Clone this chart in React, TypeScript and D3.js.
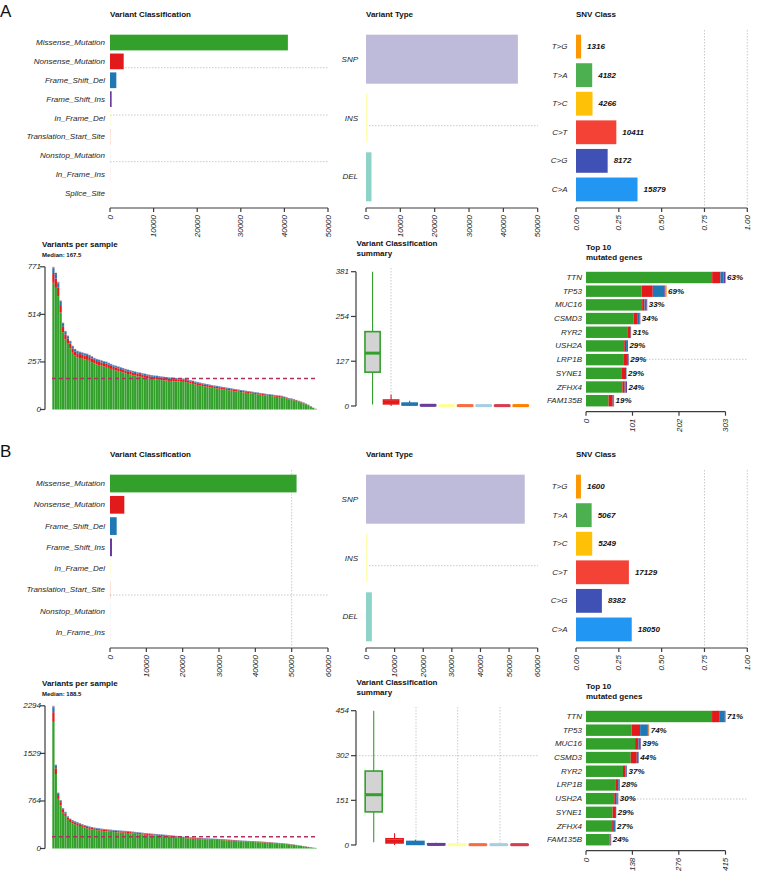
import React from 'react';
import * as d3 from 'd3';

// ---------------- categories ----------------
const vcClassesA = ['Missense_Mutation', 'Nonsense_Mutation', 'Frame_Shift_Del', 'Frame_Shift_Ins', 'In_Frame_Del', 'Translation_Start_Site', 'Nonstop_Mutation', 'In_Frame_Ins', 'Splice_Site'];
const vcClassesB = ['Missense_Mutation', 'Nonsense_Mutation', 'Frame_Shift_Del', 'Frame_Shift_Ins', 'In_Frame_Del', 'Translation_Start_Site', 'Nonstop_Mutation', 'In_Frame_Ins'];
const vtTypes = ['SNP', 'INS', 'DEL'];
const snvClasses = ['T>G', 'T>A', 'T>C', 'C>T', 'C>G', 'C>A'];

// ---------------- panel A values ----------------
const vcCountsA = [40800, 3140, 1450, 380, 70, 45, 30, 15, 10];
const vcTicksA = [0, 10000, 20000, 30000, 40000, 50000];
const vtCountsA = [44226, 450, 1600];
const vtTicksA = [0, 10000, 20000, 30000, 40000, 50000];
const snvCountsA = [1316, 4182, 4266, 10411, 8172, 15879];
const sampleTotalsA = [
  771, 740, 690, 590, 470, 425, 400, 372, 345, 328,
  318, 313, 309, 305, 302, 296, 288, 280, 274, 270,
  266, 262, 259, 253, 247, 241, 237, 233, 229, 225,
  220, 216, 213, 209, 206, 202, 200, 197, 194, 191,
  188, 186, 184, 183, 181, 179, 177, 176, 174, 173,
  172, 171, 170, 169, 168, 167, 163, 159, 156, 152,
  149, 146, 143, 140, 138, 135, 132, 130, 128, 126,
  123, 121, 119, 117, 115, 112, 110, 108, 106, 104,
  102, 100, 98, 96, 94, 92, 90, 88, 86, 84,
  83, 81, 79, 77, 76, 74, 70, 66, 62, 60,
  56, 52, 47, 43, 38, 32, 26, 18, 10, 4,
];
const sampleTicksA = [0, 257, 514, 771];
const boxMinA = [4, 0, 0, 0, 0, 0, 0, 0, 0];
const boxQ1A = [96, 6, 3, 1, 0, 0, 0, 0, 0];
const boxMedA = [150, 11, 5, 2, 1, 1, 1, 1, 1];
const boxQ3A = [211, 17, 8, 3, 2, 2, 2, 2, 2];
const boxMaxA = [381, 32, 15, 6, 3, 3, 3, 3, 3];
const boxTicksA = [0, 127, 254, 381];
const genesA = ['TTN', 'TP53', 'MUC16', 'CSMD3', 'RYR2', 'USH2A', 'LRP1B', 'SYNE1', 'ZFHX4', 'FAM135B'];
const geneMissenseA = [274, 121, 122, 103, 91, 83, 81, 78, 79, 49];
const geneNonsenseA = [18, 24, 5, 8, 6, 4, 8, 9, 5, 9];
const geneFsDelA = [7, 25, 4, 5, 1, 2, 3, 1, 2, 2];
const geneFsInsA = [4, 2, 2, 2, 0, 2, 1, 0, 3, 1];
const geneSpliceA = [0, 3, 0, 0, 0, 0, 0, 0, 0, 0];
const genePctA = ['63%', '69%', '33%', '34%', '31%', '29%', '29%', '29%', '24%', '19%'];
const geneTicksA = [0, 101, 202, 303];

// ---------------- panel B values ----------------
const vcCountsB = [51350, 3940, 1840, 550, 90, 55, 40, 15];
const vcTicksB = [0, 10000, 20000, 30000, 40000, 50000, 60000];
const vtCountsB = [55477, 560, 2050];
const vtTicksB = [0, 10000, 20000, 30000, 40000, 50000, 60000];
const snvCountsB = [1600, 5067, 5249, 17129, 8382, 18050];
const sampleTotalsB = [
  2294, 1350, 900, 780, 650, 590, 520, 480, 458, 440,
  425, 408, 392, 378, 366, 356, 346, 338, 332, 326,
  320, 315, 311, 307, 303, 299, 295, 292, 289, 286,
  284, 281, 277, 272, 268, 264, 259, 255, 250, 246,
  243, 239, 236, 233, 229, 226, 223, 220, 216, 212,
  208, 204, 200, 196, 190, 187, 185, 182, 179, 176,
  173, 170, 168, 166, 164, 162, 160, 158, 156, 154,
  152, 150, 147, 144, 141, 138, 135, 132, 129, 127,
  125, 123, 121, 119, 117, 115, 113, 111, 108, 105,
  102, 99, 96, 93, 90, 87, 83, 79, 75, 70,
  64, 58, 52, 46, 40, 33, 27, 21, 15, 10,
];
const sampleTicksB = [0, 764, 1529, 2294];
const boxMinB = [9, 0, 0, 0, 0, 0, 0, 0];
const boxQ1B = [112, 7, 2, 1, 0, 0, 0, 0];
const boxMedB = [170, 13, 6, 2, 1, 1, 1, 1];
const boxQ3B = [250, 21, 12, 4, 2, 2, 2, 2];
const boxMaxB = [454, 40, 18, 8, 3, 3, 3, 3];
const boxTicksB = [0, 151, 302, 454];
const genesB = ['TTN', 'TP53', 'MUC16', 'CSMD3', 'RYR2', 'LRP1B', 'USH2A', 'SYNE1', 'ZFHX4', 'FAM135B'];
const geneMissenseB = [375, 136, 146, 133, 110, 89, 84, 79, 75, 70];
const geneNonsenseB = [23, 25, 10, 18, 7, 7, 6, 10, 5, 3];
const geneFsDelB = [15, 23, 5, 5, 4, 4, 4, 1, 7, 1];
const geneFsInsB = [2, 2, 2, 1, 1, 1, 2, 0, 1, 1];
const geneSpliceB = [0, 2, 0, 0, 0, 0, 0, 0, 0, 0];
const genePctB = ['71%', '74%', '39%', '44%', '37%', '28%', '30%', '29%', '27%', '24%'];
const geneTicksB = [0, 138, 276, 415];

// ---------------- colours ----------------
const vcColors: Record<string, string> = {
  Missense_Mutation: '#33A02C',
  Nonsense_Mutation: '#E31A1C',
  Frame_Shift_Del: '#1F78B4',
  Frame_Shift_Ins: '#6A3D9A',
  In_Frame_Del: '#FFFF99',
  Translation_Start_Site: '#F46D43',
  Nonstop_Mutation: '#A6CEE3',
  In_Frame_Ins: '#D53E4F',
  Splice_Site: '#FF7F00',
};
const vtColors: Record<string, string> = { SNP: '#BEBADA', INS: '#FFFFB3', DEL: '#8DD3C7' };
const snvColors: Record<string, string> = {
  'T>G': '#FF9800', 'T>A': '#4CAF50', 'T>C': '#FFC107', 'C>T': '#F44336', 'C>G': '#3F51B5', 'C>A': '#2196F3',
};
const geneStackColors = ['#33A02C', '#E31A1C', '#1F78B4', '#6A3D9A', '#FF7F00'];

const FONT = "'Liberation Sans', Arial, Helvetica, sans-serif";
const AX = '#3c3c3c';
const TXT = '#262626';
const GRID = '#bdbdbd';

const last = (a: number[]) => a[a.length - 1];

// R-style barplot band (space = 0.2, 4% axis extension)
function rBand(n: number, top: number, bottom: number) {
  const span = 1.2 * n - 0.2;
  const ext = 0.04 * span;
  return d3.scaleLinear().domain([0.2 - ext, 1.2 * n + ext]).range([bottom, top]);
}
function barRange(s: d3.ScaleLinear<number, number>, n: number, i: number) {
  const j = n - 1 - i;
  return [s(1.2 + 1.2 * j), s(0.2 + 1.2 * j)];
}

function BottomAxis({ scale, ticks, labels, y }: any) {
  return (
    <g>
      <line x1={scale(ticks[0])} x2={scale(last(ticks))} y1={y} y2={y} stroke={AX} strokeWidth={1.2} />
      {ticks.map((tk: number, i: number) => (
        <g key={i}>
          <line x1={scale(tk)} x2={scale(tk)} y1={y} y2={y + 4} stroke={AX} strokeWidth={1.2} />
          <text transform={`translate(${scale(tk)},${y + 7}) rotate(-90)`} textAnchor="end" dominantBaseline="central"
            fontSize={8} fontStyle="italic" fill={TXT}>{labels[i]}</text>
        </g>
      ))}
    </g>
  );
}

function LeftAxis({ scale, ticks, x, labelX }: any) {
  return (
    <g>
      <line x1={x} x2={x} y1={scale(ticks[0])} y2={scale(last(ticks))} stroke={AX} strokeWidth={1.2} />
      {ticks.map((tk: number, i: number) => (
        <g key={i}>
          <line x1={x - 5} x2={x} y1={scale(tk)} y2={scale(tk)} stroke={AX} strokeWidth={1.2} />
          <text x={labelX} y={scale(tk)} textAnchor="end" dominantBaseline="central" fontSize={8} fontStyle="italic" fill={TXT}>{tk}</text>
        </g>
      ))}
    </g>
  );
}

function Dotted({ x1, x2, y1, y2 }: any) {
  return <line x1={x1} x2={x2} y1={y1} y2={y2} stroke={GRID} strokeWidth={0.8} strokeDasharray="1.5 1.5" />;
}

function Panel({ label, dy, dyB, p, grid }: any) {
  const t = (y: number) => y + dy;
  const b = (y: number) => y + dyB;

  // ---- Variant classification ----
  const nVC = p.vcClasses.length;
  const vcY = rBand(nVC, t(28), t(208));
  const vcX = d3.scaleLinear().domain([0, last(p.vcTicks)]).range([110, 328]);

  // ---- Variant type ----
  const vtY = rBand(vtTypes.length, t(28), t(208));
  const vtX = d3.scaleLinear().domain([0, last(p.vtTicks)]).range([366, 537.7]);

  // ---- SNV class ----
  const snvTotal = d3.sum(p.snvCounts as number[]);
  const snvY = rBand(snvClasses.length, t(28), t(208));
  const snvX = d3.scaleLinear().domain([0, 1]).range([576, 747.3]);
  const snvTicks = [0, 0.25, 0.5, 0.75, 1];

  // ---- Variants per sample ----
  const nS = p.sampleTotals.length;
  const sX = d3.scaleBand<number>().domain(d3.range(nS)).range([52.3, 316.7]).paddingInner(0.07);
  const sY = d3.scaleLinear().domain([0, last(p.sampleTicks)]).range([b(409.5), b(266.8)]);
  const vcTotal = d3.sum(p.vcCounts as number[]);
  const shares = (p.vcCounts as number[]).map((v) => v / vcTotal);
  const median = d3.median(p.sampleTotals as number[]) as number;

  // ---- Box plot ----
  const bX = d3.scaleBand<string>().domain(p.vcClasses).range([363.3, 530]).paddingInner(0.18).paddingOuter(0.09);
  const bY = d3.scaleLinear().domain([0, last(p.boxTicks)]).range([b(406), b(271.7)]);

  // ---- Top genes ----
  const nG = p.genes.length;
  const gY = rBand(nG, b(266.4), b(411.8));
  const gX = d3.scaleLinear().domain([0, last(p.geneTicks)]).range([586, 725.5]);
  const geneStacks = [p.geneMissense, p.geneNonsense, p.geneFsDel, p.geneFsIns, p.geneSplice];

  const title = (x: number, y: number, s: string, size = 8) => (
    <text x={x} y={y} fontSize={size} fontWeight="bold" fill="#111">{s}</text>
  );

  return (
    <g>
      <text x={0} y={t(17)} fontSize={17} fill="#111">{label}</text>
      {title(110, t(17), 'Variant Classification')}
      {title(366, t(17), 'Variant Type')}
      {title(576, t(17), 'SNV Class')}

      {/* grids */}
      {grid.vcH.map((y: number, i: number) => <Dotted key={'vh' + i} x1={110} x2={328} y1={t(y)} y2={t(y)} />)}
      {grid.vcV.map((v: number, i: number) => <Dotted key={'vv' + i} x1={vcX(v)} x2={vcX(v)} y1={t(30)} y2={t(206)} />)}
      {grid.vtH.map((y: number, i: number) => <Dotted key={'th' + i} x1={366} x2={538} y1={t(y)} y2={t(y)} />)}
      {[0.75, 1].map((v, i) => <Dotted key={'sv' + i} x1={snvX(v)} x2={snvX(v)} y1={t(30)} y2={t(207)} />)}
      {grid.boxV.map((x: number, i: number) => <Dotted key={'bv' + i} x1={x} x2={x} y1={b(268)} y2={b(406)} />)}
      {grid.boxH.map((v: number, i: number) => <Dotted key={'bh' + i} x1={356} x2={538} y1={bY(v)} y2={bY(v)} />)}
      {grid.geneH.map((y: number, i: number) => <Dotted key={'gh' + i} x1={586} x2={747} y1={b(y)} y2={b(y)} />)}

      {/* Variant classification bars */}
      {p.vcClasses.map((c: string, i: number) => {
        const [y0, y1] = barRange(vcY, nVC, i);
        return (
          <g key={c}>
            <rect x={vcX(0)} y={y0} width={Math.max(0, vcX(p.vcCounts[i]) - vcX(0))} height={y1 - y0} fill={vcColors[c]} />
            <text x={105} y={(y0 + y1) / 2} textAnchor="end" dominantBaseline="central" fontSize={8} fontStyle="italic" fill={TXT}>{c}</text>
          </g>
        );
      })}
      <BottomAxis scale={vcX} ticks={p.vcTicks} labels={p.vcTicks.map(String)} y={t(208)} />

      {/* Variant type bars */}
      {vtTypes.map((c, i) => {
        const [y0, y1] = barRange(vtY, vtTypes.length, i);
        return (
          <g key={c}>
            <rect x={vtX(0)} y={y0} width={vtX(p.vtCounts[i]) - vtX(0)} height={y1 - y0} fill={vtColors[c]} />
            <text x={358} y={(y0 + y1) / 2} textAnchor="end" dominantBaseline="central" fontSize={8} fontStyle="italic" fill={TXT}>{c}</text>
          </g>
        );
      })}
      <BottomAxis scale={vtX} ticks={p.vtTicks} labels={p.vtTicks.map(String)} y={t(208)} />

      {/* SNV class bars */}
      {snvClasses.map((c, i) => {
        const [y0, y1] = barRange(snvY, snvClasses.length, i);
        const frac = p.snvCounts[i] / snvTotal;
        return (
          <g key={c}>
            <rect x={snvX(0)} y={y0} width={snvX(frac) - snvX(0)} height={y1 - y0} fill={snvColors[c]} />
            <text x={567.5} y={(y0 + y1) / 2} textAnchor="end" dominantBaseline="central" fontSize={8} fontStyle="italic" fill={TXT}>{c}</text>
            <text x={snvX(frac) + 6} y={(y0 + y1) / 2} dominantBaseline="central" fontSize={8} fontStyle="italic" fontWeight="bold" fill="#111">{p.snvCounts[i]}</text>
          </g>
        );
      })}
      <BottomAxis scale={snvX} ticks={snvTicks} labels={snvTicks.map((v) => v.toFixed(2))} y={t(208)} />

      {/* Variants per sample */}
      {title(42, b(247), 'Variants per sample')}
      {title(42, b(256.5), 'Median: ' + median, 6)}
      {(p.sampleTotals as number[]).map((tot, si) => {
        let acc = 0;
        return (
          <g key={si}>
            {shares.map((sh, k) => {
              const v = tot * sh;
              const y0 = sY(acc + v);
              const y1 = sY(acc);
              acc += v;
              return <rect key={k} x={sX(si)} width={sX.bandwidth()} y={y0} height={Math.max(0, y1 - y0)} fill={vcColors[p.vcClasses[k]]} />;
            })}
          </g>
        );
      })}
      <line x1={52} x2={316} y1={sY(median)} y2={sY(median)} stroke="#B03060" strokeWidth={1.3} strokeDasharray="4 3" />
      <LeftAxis scale={sY} ticks={p.sampleTicks} x={45} labelX={41} />

      {/* Box plot */}
      {title(356.5, b(246), 'Variant Classification')}
      {title(356.5, b(255.7), 'summary')}
      {p.vcClasses.map((c: string, i: number) => {
        const x0 = bX(c) as number;
        const w = bX.bandwidth();
        const cx = x0 + w / 2;
        const col = vcColors[c];
        return (
          <g key={c}>
            <line x1={cx} x2={cx} y1={bY(p.boxQ3[i])} y2={bY(p.boxMax[i])} stroke={col} strokeWidth={1.1} />
            <line x1={cx} x2={cx} y1={bY(p.boxQ1[i])} y2={bY(p.boxMin[i])} stroke={col} strokeWidth={1.1} />
            <rect x={x0} width={w} y={bY(p.boxQ3[i])} height={bY(p.boxQ1[i]) - bY(p.boxQ3[i])} fill="#D3D3D3" stroke={col} strokeWidth={1.6} />
            <line x1={x0} x2={x0 + w} y1={bY(p.boxMed[i])} y2={bY(p.boxMed[i])} stroke={col} strokeWidth={3} />
          </g>
        );
      })}
      <LeftAxis scale={bY} ticks={p.boxTicks} x={356} labelX={349} />

      {/* Top genes */}
      {title(586, b(250), 'Top 10')}
      {title(586, b(259.5), 'mutated genes')}
      {(p.genes as string[]).map((g, i) => {
        const [y0, y1] = barRange(gY, nG, i);
        let acc = 0;
        const segs = geneStacks.map((arr: number[], k: number) => {
          const v = arr[i];
          const r = <rect key={k} x={gX(acc)} y={y0} width={gX(acc + v) - gX(acc)} height={y1 - y0} fill={geneStackColors[k]} />;
          acc += v;
          return r;
        });
        return (
          <g key={g}>
            {segs}
            <text x={582} y={(y0 + y1) / 2} textAnchor="end" dominantBaseline="central" fontSize={8} fontStyle="italic" fill={TXT}>{g}</text>
            <text x={gX(acc) + 1.5} y={(y0 + y1) / 2} dominantBaseline="central" fontSize={8} fontStyle="italic" fontWeight="bold" fill="#111">{p.genePct[i]}</text>
          </g>
        );
      })}
      <BottomAxis scale={gX} ticks={p.geneTicks} labels={p.geneTicks.map(String)} y={b(411.7)} />
    </g>
  );
}

const panelA = {
  vcClasses: vcClassesA, vcCounts: vcCountsA, vcTicks: vcTicksA,
  vtCounts: vtCountsA, vtTicks: vtTicksA, snvCounts: snvCountsA,
  sampleTotals: sampleTotalsA, sampleTicks: sampleTicksA,
  boxMin: boxMinA, boxQ1: boxQ1A, boxMed: boxMedA, boxQ3: boxQ3A, boxMax: boxMaxA, boxTicks: boxTicksA,
  genes: genesA, geneMissense: geneMissenseA, geneNonsense: geneNonsenseA, geneFsDel: geneFsDelA,
  geneFsIns: geneFsInsA, geneSplice: geneSpliceA, genePct: genePctA, geneTicks: geneTicksA,
};
const panelB = {
  vcClasses: vcClassesB, vcCounts: vcCountsB, vcTicks: vcTicksB,
  vtCounts: vtCountsB, vtTicks: vtTicksB, snvCounts: snvCountsB,
  sampleTotals: sampleTotalsB, sampleTicks: sampleTicksB,
  boxMin: boxMinB, boxQ1: boxQ1B, boxMed: boxMedB, boxQ3: boxQ3B, boxMax: boxMaxB, boxTicks: boxTicksB,
  genes: genesB, geneMissense: geneMissenseB, geneNonsense: geneNonsenseB, geneFsDel: geneFsDelB,
  geneFsIns: geneFsInsB, geneSplice: geneSpliceB, genePct: genePctB, geneTicks: geneTicksB,
};
const gridA = { vcH: [67.7, 115, 161.7], vcV: [], vtH: [125.7], boxV: [391], boxH: [], geneH: [359.3] };
const gridB = { vcH: [155], vcV: [50000], vtH: [125.7], boxV: [416, 457.7, 500], boxH: [302], geneH: [360] };

export default function App() {
  return (
    <div style={{ position: 'absolute', left: 0, top: 0, width: 757, height: 880, background: '#fff' }}>
      <svg width={757} height={880} style={{ display: 'block', fontFamily: FONT }}>
        <rect width={757} height={880} fill="#fff" />
        <Panel label="A" dy={0} dyB={0} p={panelA} grid={gridA} />
        <Panel label="B" dy={440} dyB={439} p={panelB} grid={gridB} />
      </svg>
    </div>
  );
}
